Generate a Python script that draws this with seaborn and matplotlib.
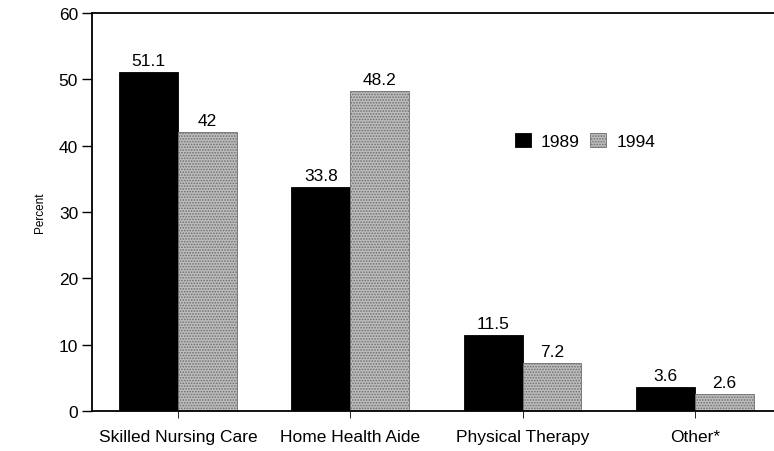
import matplotlib
matplotlib.use("Agg")
import matplotlib.pyplot as plt
import seaborn as sns
import pandas as pd

services = ["Skilled Nursing Care", "Home Health Aide", "Physical Therapy", "Other*"]
pct_1989 = [51.1, 33.8, 11.5, 3.6]
pct_1994 = [42, 48.2, 7.2, 2.6]
years = ["1989", "1994"]
y_ticks = [0, 10, 20, 30, 40, 50, 60]

df = pd.DataFrame({
    "service": services * 2,
    "year": [years[0]] * len(services) + [years[1]] * len(services),
    "pct": pct_1989 + pct_1994,
})

sns.set_style("white")
plt.rcParams["font.family"] = ["Liberation Sans", "DejaVu Sans"]
plt.rcParams["text.color"] = "black"
plt.rcParams["xtick.color"] = "black"
plt.rcParams["ytick.color"] = "black"
plt.rcParams["axes.labelcolor"] = "black"
plt.rcParams["hatch.color"] = "#7a7a7a"
plt.rcParams["hatch.linewidth"] = 0.8

fig = plt.figure(figsize=(7.74, 4.52), dpi=100)
ax = fig.add_axes([92 / 774, 40 / 452, 1 - 92 / 774, 398 / 452])

sns.barplot(data=df, x="service", y="pct", hue="year", order=services,
            hue_order=years, palette=["black", "#bdbdbd"], width=0.684,
            edgecolor="black", linewidth=0.6, ax=ax)

# stipple texture on the 1994 bars
for bar in ax.containers[1]:
    bar.set_hatch("......")
    bar.set_edgecolor("#6e6e6e")

for cont, vals in zip(ax.containers, [pct_1989, pct_1994]):
    labels = [f"{v:g}" for v in vals]
    ax.bar_label(cont, labels=labels, padding=3, fontsize=12.5, color="black")

ax.set_ylim(0, 60)
ax.set_xlim(-0.5, 3.46)
ax.set_yticks(y_ticks)
ax.set_xlabel("")
ax.set_ylabel("Percent", fontsize=8.5, labelpad=9)
ax.tick_params(axis="y", direction="out", length=7, width=1, labelsize=12.5, left=True, pad=3)
ax.tick_params(axis="x", direction="out", length=5, width=0.6, labelsize=12.5, bottom=True, pad=8)

for s in ["left", "top", "bottom"]:
    ax.spines[s].set_color("black")
    ax.spines[s].set_linewidth(1.3)
ax.spines["right"].set_visible(False)

leg = ax.legend(loc="center", bbox_to_anchor=(0.723, 0.678), ncol=2, frameon=False,
                fontsize=12.5, handlelength=0.9, handleheight=0.9, columnspacing=0.6,
                handletextpad=0.6)
leg.legend_handles[1].set_hatch("......")
leg.legend_handles[1].set_edgecolor("#6e6e6e")

fig.savefig("out.png", dpi=100)
